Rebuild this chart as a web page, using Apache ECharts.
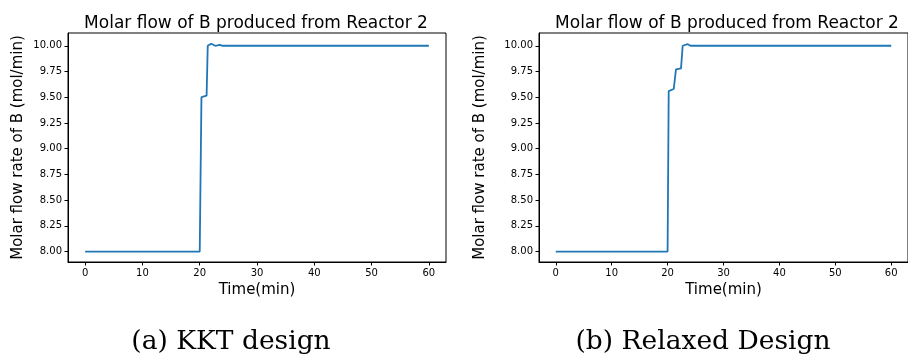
<!DOCTYPE html>
<html>
<head>
<meta charset="utf-8">
<script src="https://cdn.jsdelivr.net/npm/echarts@6/dist/echarts.min.js"></script>
<style>
html,body{margin:0;padding:0;background:#fff;}
#c{width:908px;height:358px;}
</style>
</head>
<body>
<div id="c"></div>
<script>
// Data
const kktTime  = [0, 20, 20.3, 21.2, 21.4, 22.0, 22.3, 22.7, 23.5, 24.0, 60];
const kktFlow  = [8.0, 8.0, 9.50, 9.515, 10.0, 10.02, 10.02, 10.0, 10.008, 10.0, 10.0];
const relTime  = [0, 20, 20.2, 21.1, 21.5, 22.4, 22.7, 23.0, 23.6, 24.1, 60];
const relFlow  = [8.0, 8.0, 9.56, 9.58, 9.77, 9.78, 10.0, 10.01, 10.015, 10.0, 10.0];
const xTicks = [0, 10, 20, 30, 40, 50, 60];
const yTicks = [8.00, 8.25, 8.50, 8.75, 9.00, 9.25, 9.50, 9.75, 10.00];
const titleText = 'Molar flow of B produced from Reactor 2';
const xName = 'Time(min)';
const yName = 'Molar flow rate of B (mol/min)';
const captions = ['(a) KKT design', '(b) Relaxed Design'];

const pairs = (t, v) => t.map((x, i) => [x, v[i]]);
const FONT = 'DejaVu Sans';
const BLUE = '#1f77b4';

function xAxisDef(gi) {
  return {
    type: 'value', gridIndex: gi, min: -3, max: 63,
    name: xName, nameLocation: 'middle', nameGap: 19,
    nameTextStyle: {fontFamily: FONT, fontSize: 15, color: '#000'},
    axisLine: {show: true, onZero: false, lineStyle: {color: '#000', width: 1}},
    axisTick: {show: true, length: 3.5, inside: false, customValues: xTicks, lineStyle: {color: '#000'}},
    axisLabel: {customValues: xTicks, margin: 6, fontFamily: FONT, fontSize: 10, color: '#000'},
    splitLine: {show: false}
  };
}
function yAxisDef(gi, gap) {
  return {
    type: 'value', gridIndex: gi, min: 7.899, max: 10.124,
    name: yName, nameLocation: 'middle', nameGap: gap, nameRotate: 90,
    nameTextStyle: {fontFamily: FONT, fontSize: 15, color: '#000'},
    axisLine: {show: true, onZero: false, lineStyle: {color: '#000', width: 1}},
    axisTick: {show: true, length: 3.5, inside: false, customValues: yTicks, lineStyle: {color: '#000'}},
    axisLabel: {customValues: yTicks, margin: 6, fontFamily: FONT, fontSize: 10, color: '#000',
      formatter: v => Number(v).toFixed(2)},
    splitLine: {show: false}
  };
}

const chart = echarts.init(document.getElementById('c'), null, {renderer: 'canvas'});
chart.setOption({
  animation: false,
  backgroundColor: '#fff',
  title: [
    {text: titleText, left: 251, top: 10, textAlign: 'center',
     textStyle: {fontFamily: FONT, fontSize: 17, fontWeight: 'normal', color: '#000'}},
    {text: titleText, left: 722, top: 10, textAlign: 'center',
     textStyle: {fontFamily: FONT, fontSize: 17, fontWeight: 'normal', color: '#000'}},
    {text: captions[0], left: 226, top: 324, textAlign: 'center',
     textStyle: {fontFamily: 'DejaVu Serif', fontSize: 26.5, fontWeight: 'normal', color: '#000'}},
    {text: captions[1], left: 698, top: 324, textAlign: 'center',
     textStyle: {fontFamily: 'DejaVu Serif', fontSize: 26.5, fontWeight: 'normal', color: '#000'}}
  ],
  grid: [
    {left: 68, right: 462, top: 33, bottom: 96, show: true, borderColor: '#000', borderWidth: 1, containLabel: false},
    {left: 539, right: -9, top: 33, bottom: 96, show: true, borderColor: '#000', borderWidth: 1, containLabel: false}
  ],
  xAxis: [xAxisDef(0), xAxisDef(1)],
  yAxis: [yAxisDef(0, 42), yAxisDef(1, 51)],
  series: [
    {type: 'line', xAxisIndex: 0, yAxisIndex: 0, data: pairs(kktTime, kktFlow),
     showSymbol: false, lineStyle: {color: BLUE, width: 1.8}},
    {type: 'line', xAxisIndex: 1, yAxisIndex: 1, data: pairs(relTime, relFlow),
     showSymbol: false, lineStyle: {color: BLUE, width: 1.8}}
  ]
});
</script>
</body>
</html>
